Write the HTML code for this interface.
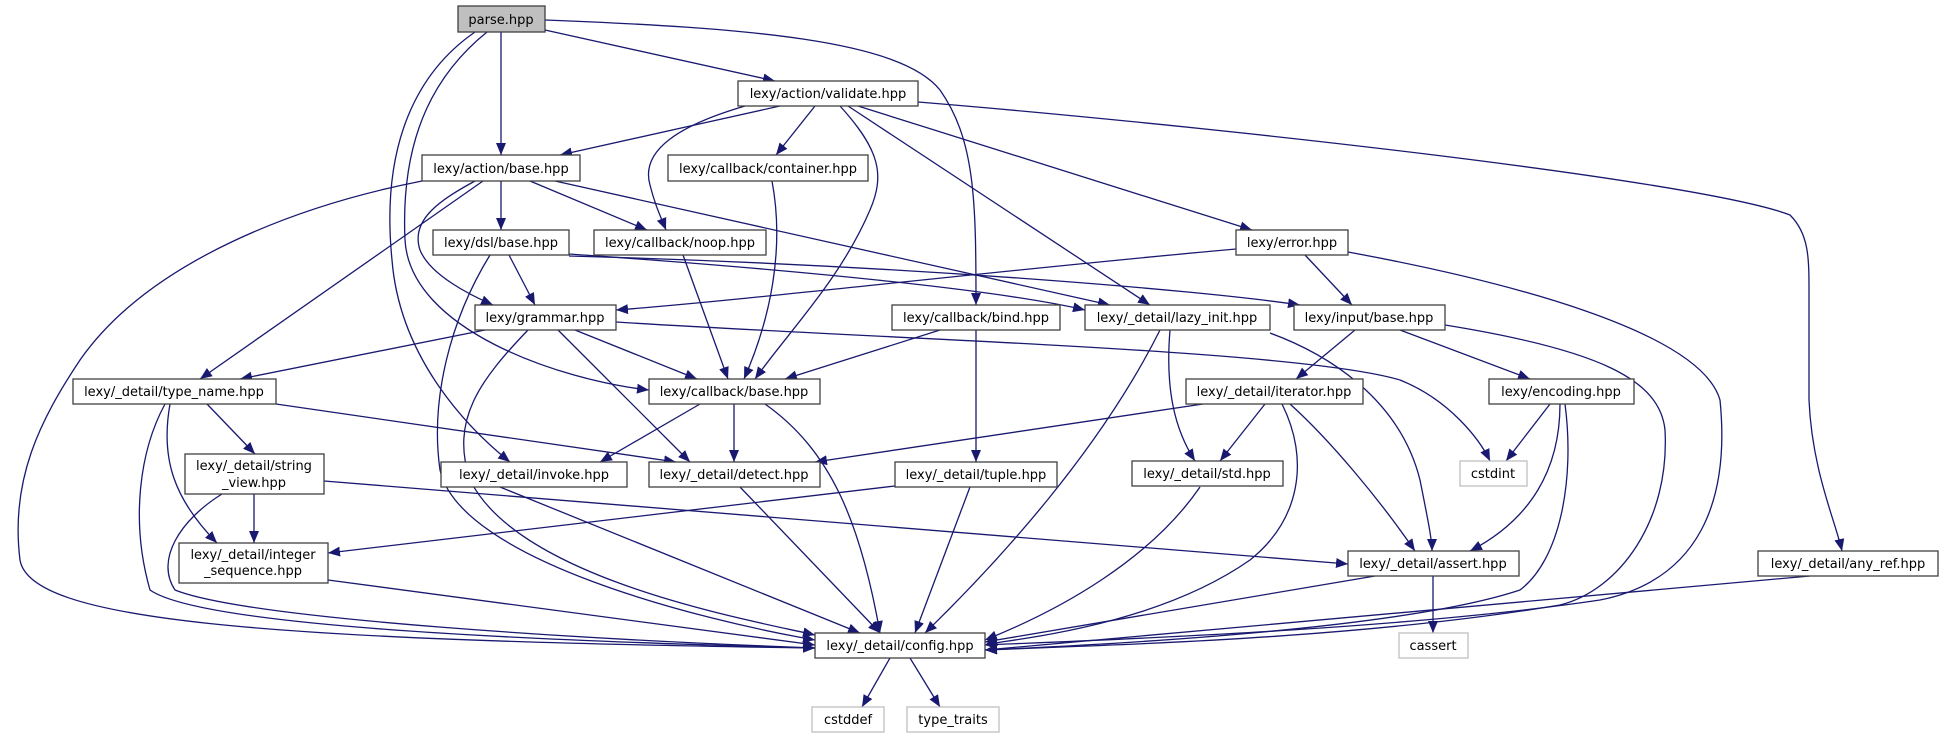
<!DOCTYPE html>
<html><head><meta charset="utf-8"><style>
html,body{margin:0;padding:0;background:#fff;}
svg{display:block;}
text{font-family:"DejaVu Sans","Liberation Sans",sans-serif;font-size:13px;fill:#000;}
.n{fill:#fff;stroke:#404040;stroke-width:1.3;}
.g{fill:#fff;stroke:#bfbfbf;stroke-width:1.3;}
.e{fill:none;stroke:#191970;stroke-width:1.3;}
</style></head><body>
<svg width="1940" height="739" viewBox="0 0 1940 739" xmlns="http://www.w3.org/2000/svg">
<defs><marker id="a" markerUnits="userSpaceOnUse" markerWidth="13" markerHeight="11" refX="12" refY="5" orient="auto"><path d="M0,0 L12,5 L0,10 z" fill="#191970"/></marker></defs>
<g marker-end="url(#a)">
<path class="e" d="M501,32 L501,155"/>
<path class="e" d="M545,30 L775,81"/>
<path class="e" d="M545,20 C750,28 900,40 940,90 C975,140 976,200 976,305"/>
<path class="e" d="M487,32 C440,70 400,130 405,240 C410,330 560,380 649,390"/>
<path class="e" d="M475,32 C420,70 380,140 392,260 C400,360 470,430 510,462"/>
<path class="e" d="M780,106 L560,155"/>
<path class="e" d="M815,106 L776,155"/>
<path class="e" d="M745,106 C680,125 640,150 650,185 C655,205 660,215 666,230"/>
<path class="e" d="M840,106 C880,150 885,175 870,210 C840,280 790,330 755,379"/>
<path class="e" d="M848,106 L1150,305"/>
<path class="e" d="M858,106 L1252,230"/>
<path class="e" d="M918,102 C1200,125 1700,180 1790,215 C1810,235 1809,260 1809,300 L1809,400 C1812,470 1835,520 1842,551"/>
<path class="e" d="M483,181 L200,379"/>
<path class="e" d="M422,181 C300,205 150,260 80,360 C40,420 10,480 20,560 C30,620 250,640 815,648"/>
<path class="e" d="M475,181 C440,200 410,220 420,250 C430,275 470,295 493,305"/>
<path class="e" d="M501,181 L501,230"/>
<path class="e" d="M530,181 L647,230"/>
<path class="e" d="M555,181 L1110,305"/>
<path class="e" d="M509,255 L535,305"/>
<path class="e" d="M490,255 C450,320 430,400 440,470 C460,560 700,620 815,640"/>
<path class="e" d="M569,254 C800,270 1000,290 1085,310"/>
<path class="e" d="M569,256 C900,265 1200,290 1300,305"/>
<path class="e" d="M683,255 L728,379"/>
<path class="e" d="M772,181 C785,250 770,320 744,379"/>
<path class="e" d="M1236,249 C1000,270 750,300 616,310"/>
<path class="e" d="M1305,255 L1352,305"/>
<path class="e" d="M1348,252 C1500,280 1700,330 1720,400 C1730,500 1700,580 1600,600 C1400,630 1100,640 985,645"/>
<path class="e" d="M485,330 L240,379"/>
<path class="e" d="M575,330 L697,379"/>
<path class="e" d="M558,330 L690,462"/>
<path class="e" d="M528,330 C480,380 450,420 470,480 C520,580 750,620 815,635"/>
<path class="e" d="M616,322 C900,340 1300,350 1400,380 C1450,400 1480,440 1490,461"/>
<path class="e" d="M940,330 L785,379"/>
<path class="e" d="M976,330 L976,462"/>
<path class="e" d="M1160,330 C1100,450 1000,560 925,633"/>
<path class="e" d="M1170,330 C1165,390 1175,430 1195,461"/>
<path class="e" d="M1270,333 C1330,355 1400,400 1420,480 C1428,520 1432,540 1432,551"/>
<path class="e" d="M1355,330 L1296,379"/>
<path class="e" d="M1400,330 L1530,379"/>
<path class="e" d="M1445,325 C1600,350 1660,380 1665,430 C1670,520 1620,590 1560,605 C1350,640 1100,645 985,650"/>
<path class="e" d="M207,404 L255,454"/>
<path class="e" d="M170,404 C160,460 175,500 217,543"/>
<path class="e" d="M165,404 C140,450 130,520 150,590 C200,625 500,640 815,648"/>
<path class="e" d="M276,404 L676,462"/>
<path class="e" d="M700,404 L600,462"/>
<path class="e" d="M734,404 L734,462"/>
<path class="e" d="M765,404 C830,450 860,520 880,633"/>
<path class="e" d="M1203,404 L815,462"/>
<path class="e" d="M1265,404 L1220,461"/>
<path class="e" d="M1290,404 C1330,440 1380,500 1415,551"/>
<path class="e" d="M1282,404 C1310,460 1300,520 1250,560 C1150,630 1000,640 985,645"/>
<path class="e" d="M1550,404 L1506,461"/>
<path class="e" d="M1560,404 C1560,470 1530,520 1470,551"/>
<path class="e" d="M1565,404 C1575,480 1560,560 1520,590 C1400,630 1100,645 985,650"/>
<path class="e" d="M254,494 L254,543"/>
<path class="e" d="M222,494 C180,520 155,560 175,590 C250,620 600,640 815,648"/>
<path class="e" d="M324,481 L1348,564"/>
<path class="e" d="M500,487 L860,633"/>
<path class="e" d="M740,487 L880,633"/>
<path class="e" d="M895,486 L328,553"/>
<path class="e" d="M970,487 L915,633"/>
<path class="e" d="M1200,487 C1150,560 1060,610 985,640"/>
<path class="e" d="M328,580 L815,645"/>
<path class="e" d="M1375,576 L985,642"/>
<path class="e" d="M1433,576 L1433,633"/>
<path class="e" d="M1810,576 L985,650"/>
<path class="e" d="M890,658 L862,707"/>
<path class="e" d="M910,658 L940,707"/>
</g>
<g text-anchor="middle">
<rect x="458" y="6" width="87" height="26" fill="#bfbfbf" stroke="#404040" stroke-width="1.3"/><text x="501" y="24">parse.hpp</text>
<rect class="n" x="738" y="81" width="180" height="25"/><text x="828" y="98">lexy/action/validate.hpp</text>
<rect class="n" x="422" y="155" width="158" height="26"/><text x="501" y="173">lexy/action/base.hpp</text>
<rect class="n" x="668" y="155" width="200" height="26"/><text x="768" y="173">lexy/callback/container.hpp</text>
<rect class="n" x="433" y="230" width="136" height="25"/><text x="501" y="247">lexy/dsl/base.hpp</text>
<rect class="n" x="594" y="230" width="172" height="25"/><text x="680" y="247">lexy/callback/noop.hpp</text>
<rect class="n" x="1236" y="230" width="112" height="25"/><text x="1292" y="247">lexy/error.hpp</text>
<rect class="n" x="475" y="305" width="141" height="25"/><text x="545" y="322">lexy/grammar.hpp</text>
<rect class="n" x="892" y="305" width="168" height="25"/><text x="976" y="322">lexy/callback/bind.hpp</text>
<rect class="n" x="1085" y="305" width="185" height="25"/><text x="1177" y="322">lexy/_detail/lazy_init.hpp</text>
<rect class="n" x="1294" y="305" width="151" height="25"/><text x="1369" y="322">lexy/input/base.hpp</text>
<rect class="n" x="73" y="379" width="203" height="25"/><text x="174" y="396">lexy/_detail/type_name.hpp</text>
<rect class="n" x="649" y="379" width="171" height="25"/><text x="734" y="396">lexy/callback/base.hpp</text>
<rect class="n" x="1186" y="379" width="177" height="25"/><text x="1274" y="396">lexy/_detail/iterator.hpp</text>
<rect class="n" x="1489" y="379" width="145" height="25"/><text x="1561" y="396">lexy/encoding.hpp</text>
<rect class="n" x="185" y="454" width="139" height="40"/><text x="254" y="470">lexy/_detail/string</text><text x="254" y="487">_view.hpp</text>
<rect class="n" x="441" y="462" width="186" height="25"/><text x="534" y="479">lexy/_detail/invoke.hpp</text>
<rect class="n" x="649" y="462" width="171" height="25"/><text x="734" y="479">lexy/_detail/detect.hpp</text>
<rect class="n" x="895" y="462" width="162" height="25"/><text x="976" y="479">lexy/_detail/tuple.hpp</text>
<rect class="n" x="1132" y="461" width="151" height="25"/><text x="1207" y="478">lexy/_detail/std.hpp</text>
<rect class="g" x="1460" y="461" width="67" height="25"/><text x="1493" y="478">cstdint</text>
<rect class="n" x="179" y="543" width="149" height="40"/><text x="253" y="559">lexy/_detail/integer</text><text x="253" y="575">_sequence.hpp</text>
<rect class="n" x="1348" y="551" width="171" height="25"/><text x="1433" y="568">lexy/_detail/assert.hpp</text>
<rect class="n" x="1758" y="551" width="180" height="25"/><text x="1848" y="568">lexy/_detail/any_ref.hpp</text>
<rect class="n" x="815" y="633" width="170" height="25"/><text x="900" y="650">lexy/_detail/config.hpp</text>
<rect class="g" x="1399" y="633" width="69" height="25"/><text x="1433" y="650">cassert</text>
<rect class="g" x="812" y="707" width="72" height="25"/><text x="848" y="724">cstddef</text>
<rect class="g" x="907" y="707" width="92" height="25"/><text x="953" y="724">type_traits</text>
</g>
</svg>
</body></html>
